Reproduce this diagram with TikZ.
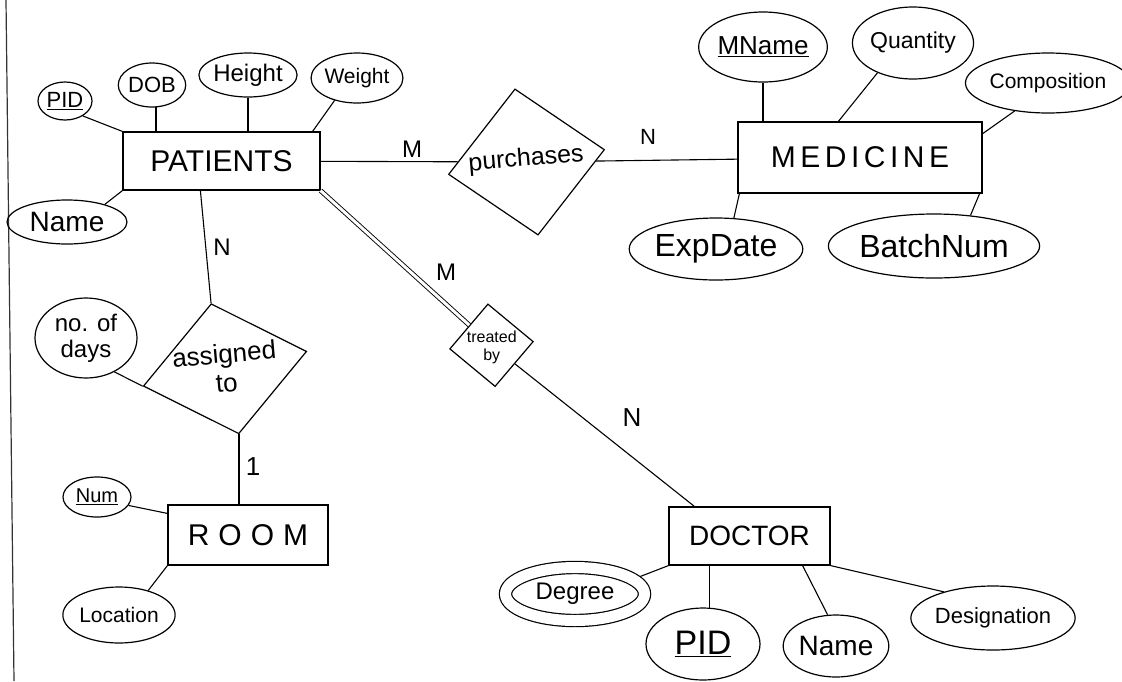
\documentclass[tikz,border=0pt]{standalone}
\usepackage{fontspec}
\setmainfont{Liberation Sans}
\usetikzlibrary{shapes.geometric,calc}
\newcommand\hw[1]{\fontsize{#1}{#1}\selectfont}
\begin{document}
\begin{tikzpicture}[x=1pt,y=-1pt,
  ent/.style={draw, rectangle, inner sep=0pt, line width=1.2pt},
  att/.style={draw, ellipse, inner sep=0pt, line width=1.2pt, align=center},
  rel/.style={draw, diamond, inner sep=0pt, line width=1.2pt, align=center, text height=8pt, text depth=8pt},
  conn/.style={line width=1.1pt},
  card/.style={inner sep=0pt}]
\fill[white] (0,0) rectangle (1122,681);
\useasboundingbox (0,0) rectangle (1122,681);
\draw[line width=1.2pt, black!80] (6,0) -- (14,681);

% entities
\node[ent, minimum width=197pt, minimum height=58pt, font=\hw{30}] (patients) at (221.5,161) {PATIENTS};
\node[ent, minimum width=244pt, minimum height=71pt, font=\hw{30}\addfontfeatures{LetterSpace=15}] (medicine) at (860,157.5) {MEDICINE\hspace{50pt}};
\node[ent, minimum width=160pt, minimum height=60pt, font=\hw{30}\addfontfeatures{LetterSpace=30}] (room) at (248,535) {ROOM};
\node[ent, minimum width=161pt, minimum height=58pt, font=\hw{28}] (doctor) at (749.5,536) {DOCTOR};

% relationships
\node[rel, rotate=9, minimum width=158pt, minimum height=148pt, font=\hw{25}] (purch) at (526.5,162) {\makebox[30pt]{\rotatebox{-4}{purchases}}};
\node[rel, rotate=12, minimum width=167pt, minimum height=133pt, font=\hw{26}] (assigned) at (225,368.75) {\makebox[30pt]{\raisebox{-3pt}{\rotatebox{-7}{\begin{tabular}{@{}c@{}}assigned\\[3pt]to\end{tabular}}}}};
\node[rel, rotate=5, minimum width=84pt, minimum height=83pt, font=\hw{16}] (treated) at (491.5,345.25) {\makebox[20pt]{\raisebox{-5pt}{\rotatebox{-5}{\begin{tabular}{@{}c@{}}treated\\[1pt]by\end{tabular}}}}};

% attributes of PATIENTS
\node[att, minimum width=54pt, minimum height=38pt, font=\hw{22}] (pid) at (65,101) {\underline{PID}};
\node[att, minimum width=66pt, minimum height=44pt, font=\hw{22}] (dob) at (152,85) {DOB};
\node[att, minimum width=90pt, minimum height=44pt, font=\hw{24}] (height) at (248,75) {Height};
\node[att, minimum width=78pt, minimum height=50pt, font=\hw{21}] (weight) at (357,78) {Weight};
\node[att, minimum width=120pt, minimum height=44pt, font=\hw{28}] (pname) at (67,222) {Name};

% attributes of MEDICINE
\node[att, minimum width=110pt, minimum height=70pt, font=\hw{26}] (mname) at (763,47) {\underline{MName}};
\node[att, minimum width=104pt, minimum height=72pt, font=\hw{23}] (qty) at (913,43) {Quantity};
\node[att, minimum width=146pt, minimum height=60pt, font=\hw{21}] (comp) at (1048,83) {Composition};
\node[att, minimum width=154pt, minimum height=62pt, font=\hw{32}] (exp) at (716,249) {ExpDate};
\node[att, minimum width=182pt, minimum height=64pt, font=\hw{32}] (batch) at (934,246) {BatchNum};

% attributes of assigned to / ROOM
\node[att, minimum width=102pt, minimum height=80pt, font=\hw{24}] (days) at (86,338) {no. of\\[2pt]days};
\node[att, minimum width=68pt, minimum height=40pt, font=\hw{20}] (num) at (97,497) {\underline{Num}};
\node[att, minimum width=88pt, minimum height=56pt, font=\hw{21}] (loc) at (119,615) {Location};

% attributes of DOCTOR
\node[att, double, double distance=11pt, outer sep=6.7pt, minimum width=139pt, minimum height=53pt, font=\hw{24}] (degree) at (575,594) {Degree};
\node[att, minimum width=114pt, minimum height=72pt, font=\hw{34}] (dpid) at (703,644) {\underline{PID}};
\node[att, minimum width=102pt, minimum height=62pt, font=\hw{28}] (dname) at (836,646) {Name};
\node[att, minimum width=132pt, minimum height=64pt, font=\hw{22}] (desig) at (993,618) {Designation};

% cardinalities
\node[card, font=\hw{24}] (m1) at (412,149) {M};
\node[card, font=\hw{22}] (n1) at (648,137) {N};
\node[card, font=\hw{24}] (n2) at (222,247) {N};
\node[card, font=\hw{26}] (one) at (253,467) {1};
\node[card, font=\hw{24}] (m2) at (446,272) {M};
\node[card, font=\hw{26}] (n3) at (632,418) {N};

% connectors
\draw[conn] (pid.-40) -- (patients.north west);
\draw[conn] (dob.-80) -- (dob.-80 |- patients.north);
\draw[conn] (height.south) -- (height.south |- patients.north);
\coordinate (pwt) at ($(patients.north east)+(-8,0)$);
\draw[conn] (weight.-135) -- (pwt);
\draw[conn] (pname.25) -- (patients.south west);
\draw[conn] (patients) -- (purch);
\draw[conn] (purch) -- (medicine);
\draw[conn] (mname.south) -- (mname.south |- medicine.north);
\coordinate (mqt) at ($(medicine.north west)+(101,0)$);
\draw[conn] (qty.-140) -- (mqt);
\draw[conn] (comp.-140) -- (medicine.11);
\coordinate (mexp) at ($(medicine.south west)+(2,0)$);
\draw[conn] (exp.60) -- (mexp);
\coordinate (mbat) at ($(medicine.south east)+(-3,0)$);
\draw[conn] (batch.40) -- (mbat);
\coordinate (pbot) at ($(patients.south west)+(78,0)$);
\draw[conn] (pbot) -- (assigned.north);
\draw[conn] (days.-50) -- (assigned.west);
\draw[conn] (assigned.south) -- (assigned.south |- room.north);
\draw[conn] (num.-15) -- (room.165);
\draw[conn] (loc.40) -- (room.south west);
\draw[line width=0.9pt, double, double distance=3pt] (patients.south east) -- (treated);
\coordinate (dtop) at ($(doctor.north west)+(26,0)$);
\draw[conn] (treated) -- (dtop);
\draw[conn] (degree.15) -- (doctor.south west);
\draw[conn] (dpid.80) -- (dpid.80 |- doctor.south);
\coordinate (dnm) at ($(doctor.south east)+(-28,0)$);
\draw[conn] (dname.105) -- (dnm);
\draw[conn] (desig.152) -- (doctor.south east);
\end{tikzpicture}
\end{document}
